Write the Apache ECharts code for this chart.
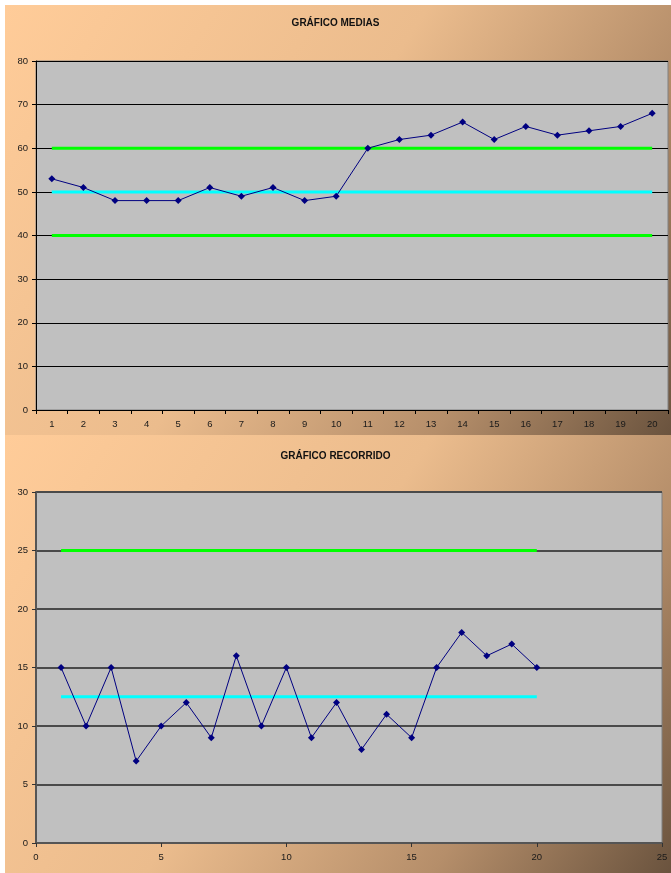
<!DOCTYPE html>
<html>
<head>
<meta charset="utf-8">
<style>
  html, body { margin: 0; padding: 0; background: #ffffff; }
  #chart { width: 671px; height: 873px; }
</style>
<script src="https://cdn.jsdelivr.net/npm/echarts@6/dist/echarts.min.js"></script>
</head>
<body>
<div id="chart"></div>
<script>
// Sample numbers 1..20
const samples = ['1','2','3','4','5','6','7','8','9','10','11','12','13','14','15','16','17','18','19','20'];

// Sample means (X-bar chart)
const means = [53, 51, 48, 48, 48, 51, 49, 51, 48, 49, 60, 62, 63, 66, 62, 65, 63, 64, 65, 68];
const meansUCL = 60;
const meansCL = 50;
const meansLCL = 40;

// Sample ranges (R chart)
const ranges = [15, 10, 15, 7, 10, 12, 9, 16, 10, 15, 9, 12, 8, 11, 9, 15, 18, 16, 17, 15];
const rangesUCL = 25;
const rangesCL = 12.5;

const chart = echarts.init(document.getElementById('chart'));

const panelFill = new echarts.graphic.LinearGradient(0, 0, 1, 1, [
  { offset: 0, color: '#FFCC99' },
  { offset: 0.45, color: '#EBBC8D' },
  { offset: 0.75, color: '#B58E6A' },
  { offset: 1, color: '#6A533E' }
]);

const labelFont = { fontFamily: 'Liberation Sans, Arial, sans-serif', fontSize: 9.5, color: '#1a1a1a' };
const titleFont = { fontFamily: 'Liberation Sans, Arial, sans-serif', fontSize: 10, fontWeight: 'bold', color: '#111' };

const rangeIdx = samples.map((s, i) => i + 1);

chart.setOption({
  animation: false,
  graphic: [
    { type: 'rect', left: 5, top: 5, shape: { width: 666, height: 430 }, style: { fill: panelFill }, z: -10, silent: true },
    { type: 'rect', left: 5, top: 435, shape: { width: 666, height: 438 }, style: { fill: panelFill }, z: -10, silent: true }
  ],
  title: [
    { text: 'GRÁFICO MEDIAS', left: 'center', top: 13, textStyle: titleFont },
    { text: 'GRÁFICO RECORRIDO', left: 'center', top: 446, textStyle: titleFont }
  ],
  grid: [
    { left: 36, top: 61, width: 632, height: 349, show: true, backgroundColor: '#C0C0C0', borderColor: '#808080', borderWidth: 1 },
    { left: 36, top: 492, width: 626, height: 351, show: true, backgroundColor: '#C0C0C0', borderColor: '#808080', borderWidth: 1 }
  ],
  xAxis: [
    {
      type: 'category', gridIndex: 0, data: samples, boundaryGap: true,
      axisLine: { lineStyle: { color: '#000', width: 1 } },
      axisTick: { show: true, alignWithLabel: false, length: 4, lineStyle: { color: '#000' } },
      axisLabel: Object.assign({ margin: 9 }, labelFont),
      splitLine: { show: false }
    },
    {
      type: 'value', gridIndex: 1, min: 0, max: 25, interval: 5,
      axisLine: { lineStyle: { color: '#555', width: 2 } },
      axisTick: { show: true, length: 4, lineStyle: { color: '#333' } },
      axisLabel: Object.assign({ margin: 9 }, labelFont),
      splitLine: { show: false }
    }
  ],
  yAxis: [
    {
      type: 'value', gridIndex: 0, min: 0, max: 80, interval: 10,
      axisLine: { show: true, lineStyle: { color: '#000', width: 1 } },
      axisTick: { show: true, length: 4, lineStyle: { color: '#000' } },
      axisLabel: Object.assign({ margin: 8 }, labelFont),
      splitLine: { show: true, lineStyle: { color: '#000', width: 1 } }
    },
    {
      type: 'value', gridIndex: 1, min: 0, max: 30, interval: 5,
      axisLine: { show: true, lineStyle: { color: '#555', width: 2 } },
      axisTick: { show: true, length: 4, lineStyle: { color: '#333' } },
      axisLabel: Object.assign({ margin: 8 }, labelFont),
      splitLine: { show: true, lineStyle: { color: '#4a4a4a', width: 2 } }
    }
  ],
  series: [
    {
      type: 'line', xAxisIndex: 0, yAxisIndex: 0, data: samples.map(() => meansUCL),
      symbol: 'none', lineStyle: { color: '#00FF00', width: 3 }, z: 3
    },
    {
      type: 'line', xAxisIndex: 0, yAxisIndex: 0, data: samples.map(() => meansLCL),
      symbol: 'none', lineStyle: { color: '#00FF00', width: 3 }, z: 3
    },
    {
      type: 'line', xAxisIndex: 0, yAxisIndex: 0, data: samples.map(() => meansCL),
      symbol: 'none', lineStyle: { color: '#00FFFF', width: 3 }, z: 3
    },
    {
      type: 'line', xAxisIndex: 0, yAxisIndex: 0, data: means,
      symbol: 'diamond', symbolSize: 7, itemStyle: { color: '#000080' },
      lineStyle: { color: '#000080', width: 1 }, z: 5
    },
    {
      type: 'line', xAxisIndex: 1, yAxisIndex: 1, data: rangeIdx.map(i => [i, rangesUCL]),
      symbol: 'none', lineStyle: { color: '#00FF00', width: 3 }, z: 3
    },
    {
      type: 'line', xAxisIndex: 1, yAxisIndex: 1, data: rangeIdx.map(i => [i, rangesCL]),
      symbol: 'none', lineStyle: { color: '#00FFFF', width: 3 }, z: 3
    },
    {
      type: 'line', xAxisIndex: 1, yAxisIndex: 1, data: ranges.map((v, i) => [rangeIdx[i], v]),
      symbol: 'diamond', symbolSize: 7, itemStyle: { color: '#000080' },
      lineStyle: { color: '#000080', width: 1 }, z: 5
    }
  ]
});
</script>
</body>
</html>
